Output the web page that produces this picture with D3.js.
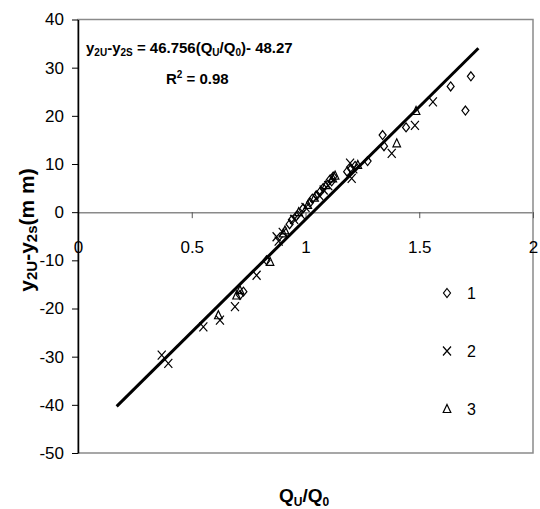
<!DOCTYPE html>
<html>
<head>
<meta charset="utf-8">
<script src="https://cdn.jsdelivr.net/npm/d3@7"></script>
<style>
  body { margin: 0; background: #fff; }
  svg text { font-family: "Liberation Sans", Arial, sans-serif; }
</style>
</head>
<body>
<svg id="chart" width="540" height="509"></svg>
<script>
// data
var series1 = [[1.727,28.2],[1.638,26.1],[1.703,21.1],[1.442,17.6],[1.339,16.0],[1.345,13.7],[1.273,10.6],
  [1.218,9.6],[1.183,8.4],[1.122,7.4],[1.108,6.8],[1.078,5.0],[1.05,3.5],[1.02,2.0],[0.99,0.8],[0.96,-0.8],
  [0.93,-2.5],[0.829,-10.0],[0.727,-16.5],[0.712,-17.2],[1.20,9.0],[1.115,6.4],[1.064,4.2],[1.03,2.8],[0.94,-1.6]];
var series2 = [[1.560,22.9],[1.481,18.0],[1.379,12.2],[1.203,7.0],[1.196,10.2],[1.21,9.0],[1.10,5.5],
  [1.06,3.5],[1.00,1.0],[0.95,-1.5],[0.90,-4.2],[0.873,-5.1],[0.882,-6.0],[0.785,-13.1],[0.690,-19.6],
  [0.624,-22.4],[0.551,-23.8],[0.368,-29.7],[0.397,-31.4],[0.98,-0.5],[1.08,4.6]];
var series3 = [[1.486,21.0],[1.401,14.3],[1.23,9.8],[1.12,7.0],[1.09,5.6],[1.04,3.0],[0.97,0.0],
  [0.91,-3.8],[0.902,-4.4],[0.844,-10.3],[0.712,-16.2],[0.697,-17.3],[0.617,-21.4],[1.01,1.5],[1.13,7.6]];
var fitRange = [0.17, 1.76];
var slope = 46.756, intercept = -48.27;
var xTicks = [0, 0.5, 1, 1.5, 2];
var yTicks = [40, 30, 20, 10, 0, -10, -20, -30, -40, -50];
var legendNames = ["1", "2", "3"];

var svg = d3.select("#chart");
var x = d3.scaleLinear().domain([0, 2]).range([78, 533]);
var y = d3.scaleLinear().domain([-50, 40]).range([453, 19.5]);

// plot frame
svg.append("rect")
    .attr("x", x(0)).attr("y", y(40))
    .attr("width", x(2) - x(0)).attr("height", y(-50) - y(40))
    .attr("fill", "none").attr("stroke", "#8a8a8a").attr("stroke-width", 1.5);

// x axis crossing at y = 0
var xAxis = svg.append("g")
    .attr("transform", "translate(0," + y(0) + ")")
    .call(d3.axisBottom(x).tickValues(xTicks).tickSize(6).tickSizeOuter(0)
        .tickFormat(function (d) { return String(d); }));
xAxis.select(".domain").attr("stroke", "#8a8a8a").attr("stroke-width", 1.5);
xAxis.selectAll(".tick line").attr("stroke", "#555");
xAxis.selectAll(".tick").filter(function (d) { return d == 0; }).select("line").remove();
xAxis.selectAll("text").attr("font-size", 17).attr("fill", "#000").attr("dy", "1.85em")
    .style("font-family", "Liberation Sans, Arial, sans-serif");

var yAxis = svg.append("g")
    .attr("transform", "translate(" + x(0) + ",0)")
    .call(d3.axisLeft(y).tickValues(yTicks).tickSize(6).tickSizeOuter(0).tickPadding(8)
        .tickFormat(function (d) { return String(d); }));
yAxis.select(".domain").attr("stroke", "#000").attr("stroke-width", 1.5);
yAxis.selectAll(".tick line").attr("stroke", "#000");
yAxis.selectAll("text").attr("font-size", 17).attr("fill", "#000")
    .style("font-family", "Liberation Sans, Arial, sans-serif");

// regression line
svg.append("line")
    .attr("x1", x(fitRange[0])).attr("y1", y(slope * fitRange[0] + intercept))
    .attr("x2", x(fitRange[1])).attr("y2", y(slope * fitRange[1] + intercept))
    .attr("stroke", "#000").attr("stroke-width", 3);

// markers
function drawMarker(g, type) {
    if (type == 0) {
        g.append("path").attr("d", "M0,-4.5L3.5,0L0,4.5L-3.5,0Z");
    } else if (type == 1) {
        g.append("path").attr("d", "M-4,-4.5L4,4.5M-4,4.5L4,-4.5");
    } else {
        g.append("path").attr("d", "M0,-4.5L3.8,3.5L-3.8,3.5Z");
    }
    g.selectAll("path").attr("fill", "none").attr("stroke", "#000").attr("stroke-width", 1.2);
}

[series1, series2, series3].forEach(function (s, i) {
    svg.append("g").selectAll("g")
        .data(s).enter().append("g")
        .attr("transform", function (d) { return "translate(" + x(d[0]) + "," + y(d[1]) + ")"; })
        .each(function () { drawMarker(d3.select(this), i); });
});

// legend
var legY = [293, 351, 409];
legendNames.forEach(function (n, i) {
    var g = svg.append("g").attr("transform", "translate(447," + legY[i] + ")");
    drawMarker(g, i);
    g.append("text").attr("x", 20).attr("y", 6).attr("font-size", 16).text(n);
});

// equation
var eq = svg.append("text").attr("x", 86).attr("y", 53)
    .attr("font-size", 15).attr("font-weight", "bold");
eq.append("tspan").text("y");
eq.append("tspan").attr("font-size", 10).attr("dy", 3).text("2U");
eq.append("tspan").attr("dy", -3).text("-y");
eq.append("tspan").attr("font-size", 10).attr("dy", 3).text("2S");
eq.append("tspan").attr("dy", -3).text(" = 46.756(Q");
eq.append("tspan").attr("font-size", 10).attr("dy", 3).text("U");
eq.append("tspan").attr("dy", -3).text("/Q");
eq.append("tspan").attr("font-size", 10).attr("dy", 3).text("0");
eq.append("tspan").attr("dy", -3).text(")- 48.27");

var r2 = svg.append("text").attr("x", 166).attr("y", 84)
    .attr("font-size", 15).attr("font-weight", "bold");
r2.append("tspan").text("R");
r2.append("tspan").attr("font-size", 10).attr("dy", -6).text("2");
r2.append("tspan").attr("dy", 6).text(" = 0.98");

// axis titles
var xt = svg.append("text").attr("x", 279).attr("y", 502)
    .attr("font-size", 19).attr("font-weight", "bold");
xt.append("tspan").text("Q");
xt.append("tspan").attr("font-size", 12).attr("dy", 4).text("U");
xt.append("tspan").attr("dy", -4).text("/Q");
xt.append("tspan").attr("font-size", 12).attr("dy", 4).text("0");

var yt = svg.append("text").attr("transform", "translate(34,230) rotate(-90)")
    .attr("text-anchor", "middle").attr("font-size", 21).attr("font-weight", "bold");
yt.append("tspan").text("y");
yt.append("tspan").attr("font-size", 15).attr("dy", 3).text("2U");
yt.append("tspan").attr("dy", -3).text("-y");
yt.append("tspan").attr("font-size", 15).attr("dy", 3).text("2s");
yt.append("tspan").attr("dy", -3).text("(m m)");
</script>
</body>
</html>
